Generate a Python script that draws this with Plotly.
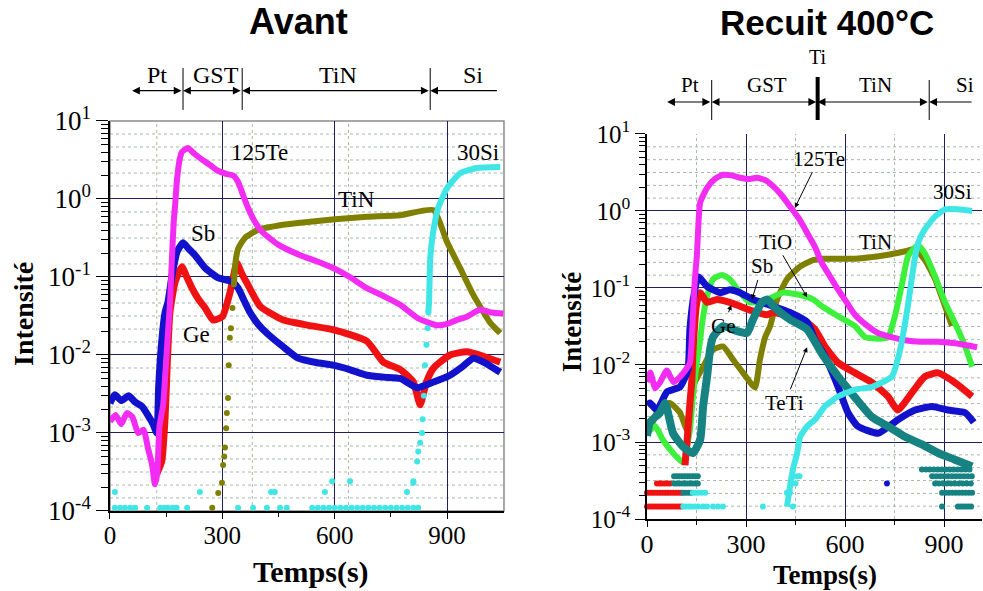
import plotly.graph_objects as go

# ---------------- Avant (left panel) ----------------
av_te_t = [0, 15, 30, 45, 60, 75, 90, 101, 112, 120, 126, 132, 142, 148, 154, 160, 166, 170, 174, 179,
           186, 192, 208, 225, 246, 268, 288, 310, 329, 342, 356, 369, 388, 406, 449, 508, 550, 596, 640, 686,
           730, 775, 820, 850, 873, 900, 925, 953, 988, 1020, 1050]
av_te_i = [1.4e-3, 1.7e-3, 1.3e-3, 1.8e-3, 1.6e-3, 1.0e-3, 1.1e-3, 6.5e-4, 4e-4, 2.2e-4, 3e-4, 1.2e-3, 2.3e-3, 6e-3, 0.017, 0.045, 0.2, 0.5, 0.85, 1.8,
           3.2, 4.0, 4.5, 3.8, 3.2, 2.7, 2.3, 2.1, 2.0, 1.65, 1.1, 0.76, 0.5, 0.38, 0.26, 0.19, 0.16, 0.13, 0.1, 0.072,
           0.057, 0.044, 0.03, 0.026, 0.024, 0.025, 0.028, 0.031, 0.038, 0.035, 0.034]

av_sb_t = [0, 13, 30, 50, 67, 85, 101, 115, 125, 130, 139, 147, 155, 166, 179, 195, 210, 227, 254, 288,
           326, 342, 358, 374, 395, 419, 460, 502, 550, 596, 640, 686, 730, 775, 820, 864, 908, 940, 970, 1000, 1042]
av_sb_i = [2.4e-3, 3.1e-3, 2.6e-3, 3.0e-3, 2.5e-3, 2.2e-3, 1.7e-3, 1.3e-3, 1.0e-3, 4e-3, 0.0166, 0.035, 0.048, 0.107, 0.21, 0.275, 0.23, 0.19, 0.13, 0.098,
           0.087, 0.072, 0.05, 0.035, 0.025, 0.019, 0.013, 9.1e-3, 8e-3, 7.4e-3, 6.5e-3, 5.5e-3, 5.2e-3, 5e-3, 3.8e-3, 4.5e-3, 5.5e-3, 7e-3, 9.1e-3, 8e-3, 6e-3]

av_ge_t = [125, 138, 147, 153, 160, 174, 192, 205, 219, 236, 254, 275, 300, 320, 339, 352, 366, 401, 463, 530,
           598, 686, 730, 775, 810, 828, 845, 864, 908, 953, 1000, 1042]
av_ge_i = [3e-4, 4.3e-4, 1.55e-3, 8e-3, 0.035, 0.087, 0.135, 0.1, 0.072, 0.052, 0.04, 0.028, 0.031, 0.062, 0.15, 0.11, 0.083, 0.042, 0.028, 0.024,
           0.021, 0.015, 8.1e-3, 6.5e-3, 4.5e-3, 2.3e-3, 4.5e-3, 6.8e-3, 0.01, 0.011, 0.0095, 8.1e-3]

# TiN: sparse rising points, then the dense plateau
av_tin_rise_t = [273, 289, 299, 302, 305, 307, 310, 312, 315, 317, 320, 323, 327, 331]
av_tin_rise_i = [1.1e-4, 1.7e-4, 2.3e-4, 3.9e-4, 5e-4, 6.5e-4, 1.15e-3, 1.8e-3, 2.8e-3, 7.4e-3, 0.0166, 0.022, 0.04, 0.08]
av_tin_t = [331, 334, 342, 361, 395, 467, 534, 600, 686, 775, 864, 900, 935, 970, 1015, 1042]
av_tin_i = [0.08, 0.14, 0.23, 0.32, 0.40, 0.47, 0.51, 0.55, 0.59, 0.62, 0.72, 0.28, 0.13, 0.059, 0.026, 0.019]

av_si_rise_t = [810, 820, 823, 828, 833, 835, 838, 841, 845, 848, 850]
av_si_rise_i = [2.3e-4, 4.3e-4, 5.8e-4, 7.5e-4, 1e-3, 1.5e-3, 3e-3, 7.4e-3, 0.0135, 0.022, 0.035]
av_si_t = [850, 852, 855, 862, 876, 900, 935, 980, 1042]
av_si_i = [0.035, 0.048, 0.17, 0.35, 0.76, 1.38, 2.14, 2.5, 2.57]

# scattered 30Si points near the detection floor
av_si_floor_levels = [1.1e-4, 1.75e-4, 2.4e-4]
av_si_floor_t = [
    [13, 27, 40, 54, 67, 99, 134, 146, 155, 168, 178, 206, 342, 382, 419, 454, 472, 540, 555, 570,
     585, 600, 615, 630, 645, 660, 675, 690, 705, 720, 735, 750, 765, 780, 795, 810, 823],
    [13, 240, 430, 440, 574, 793],
    [593, 641, 810],
]

# ---------------- Recuit 400°C (right panel) ----------------
re_te_t = [0, 10, 25, 40, 60, 80, 100, 120, 130, 139, 145, 151, 155, 161, 182, 205, 230, 255, 282, 308,
           333, 360, 382, 408, 433, 460, 485, 509, 530, 555, 579, 605, 630, 665, 700, 740, 782, 830, 882, 940, 1000]
re_te_i = [6e-3, 8e-3, 5e-3, 6e-3, 8.5e-3, 6e-3, 7e-3, 9e-3, 0.0107, 0.043, 0.13, 0.26, 0.58, 1.29, 2.0, 2.6, 2.95, 2.9, 2.7, 2.6,
           2.7, 2.5, 2.1, 1.6, 1.15, 0.8, 0.52, 0.34, 0.21, 0.14, 0.095, 0.065, 0.045, 0.033, 0.026, 0.023, 0.021, 0.02, 0.02, 0.019, 0.017]

re_sb_t = [0, 9, 30, 61, 100, 124, 130, 140, 155, 182, 221, 251, 282, 321, 382, 433, 485, 509, 539, 579,
           609, 639, 700, 760, 812, 864, 912, 964, 990]
re_sb_i = [3e-3, 3.2e-3, 2.6e-3, 4.5e-3, 5.2e-3, 8.7e-3, 0.029, 0.07, 0.14, 0.105, 0.087, 0.095, 0.087, 0.071, 0.058, 0.048, 0.036, 0.021, 0.013, 5.2e-3,
           2.4e-3, 1.6e-3, 1.3e-3, 1.95e-3, 2.6e-3, 2.9e-3, 2.6e-3, 2.4e-3, 1.8e-3]

re_ge_t = [115, 121, 130, 136, 139, 151, 161, 182, 212, 251, 282, 321, 364, 382, 433, 480, 509, 539, 579, 630,
           682, 730, 760, 803, 842, 882, 933, 985]
re_ge_i = [5e-4, 9.8e-4, 3.2e-3, 6.5e-3, 0.0145, 0.065, 0.087, 0.065, 0.071, 0.065, 0.058, 0.05, 0.045, 0.048, 0.043, 0.037, 0.029, 0.0174, 0.0107, 7.9e-3,
           5.9e-3, 3.9e-3, 2.6e-3, 4.4e-3, 7.1e-3, 7.9e-3, 5.9e-3, 3.9e-3]

re_tio_t = [0, 25, 48, 79, 109, 130, 139, 151, 161, 167, 182, 200, 227, 251, 282, 312, 364, 412, 464, 503,
            530, 579, 630, 661, 700, 730, 751, 773, 791, 821, 842, 873, 903, 933, 964, 985]
re_tio_i = [1.3e-3, 1.6e-3, 1.07e-3, 7.2e-4, 5.4e-4, 1.45e-3, 3.9e-3, 0.0107, 0.021, 0.035, 0.078, 0.13, 0.148, 0.13, 0.087, 0.065, 0.071, 0.087, 0.081, 0.071,
            0.058, 0.043, 0.032, 0.023, 0.022, 0.023, 0.043, 0.115, 0.26, 0.36, 0.28, 0.14, 0.065, 0.035, 0.0174, 9.5e-3]

re_tin_t = [10, 39, 70, 100, 121, 139, 170, 200, 230, 261, 291, 327, 342, 358, 373, 394, 424, 464, 503, 530,
            630, 730, 782, 812, 842, 873, 903, 924]
re_tin_i = [1.5e-3, 2.9e-3, 3.2e-3, 2.4e-3, 1.45e-3, 5.2e-3, 9.5e-3, 0.0158, 0.0174, 0.0117, 7.9e-3, 5.1e-3, 0.0117, 0.023, 0.032, 0.071, 0.13, 0.19, 0.23, 0.24,
            0.24, 0.27, 0.30, 0.32, 0.23, 0.13, 0.058, 0.032]

re_teti_t = [0, 9, 39, 55, 79, 109, 139, 161, 170, 182, 191, 200, 230, 273, 303, 321, 348, 364, 394, 433,
             485, 530, 579, 630, 682, 730, 782, 833, 882, 933, 985]
re_teti_i = [1.2e-3, 1.8e-3, 2.4e-3, 3.2e-3, 1.3e-3, 8.7e-4, 7.2e-4, 1.07e-3, 2.9e-3, 7.1e-3, 0.0158, 0.023, 0.032, 0.0275, 0.026, 0.039, 0.065, 0.071, 0.052, 0.039,
             0.029, 0.014, 7.1e-3, 3.8e-3, 2.1e-3, 1.6e-3, 1.17e-3, 9.3e-4, 7.2e-4, 5.9e-4, 4.8e-4]

re_si_t = [424, 433, 442, 455, 464, 485, 509, 539, 579, 630, 682, 742, 765, 782, 795, 803, 812, 821, 842, 873,
           903, 942, 985]
re_si_i = [1.45e-4, 2.6e-4, 4.4e-4, 7.2e-4, 1.17e-3, 1.6e-3, 1.95e-3, 2.9e-3, 3.9e-3, 4.8e-3, 5.2e-3, 7.1e-3, 0.0145, 0.035, 0.08, 0.14, 0.25, 0.38, 0.58, 0.85,
           1.05, 1.05, 1.0]

# scattered points at the detection floor (rows of quantised counts)
re_floor_levels = [1.45e-4, 2.2e-4, 2.9e-4, 3.6e-4, 4.4e-4]
re_ge_floor_t = [
    [0, 8, 16, 24, 32, 40, 48, 56, 64, 72, 80, 88, 96, 104],
    [0, 8, 16, 24, 32, 40, 48, 56, 64, 72, 80, 88, 96, 104],
    [30, 38, 46, 54, 62, 70],
    [], [],
]
re_teti_floor_t = [
    [894, 942, 950, 958, 966, 974, 982],
    [110, 118, 126, 134, 894, 905, 915, 925, 935, 945, 955, 965, 975, 985],
    [82, 90, 98, 106, 114, 122, 130, 138, 146, 154, 873, 885, 897, 909, 921, 933, 945, 957, 969, 981],
    [82, 90, 98, 106, 114, 122, 130, 138, 146, 154, 864, 876, 888, 900, 912, 924, 936, 948, 960, 972, 984],
    [833, 845, 857, 869, 881, 893, 905, 917, 929, 941, 953, 965, 977],
]
re_si_floor_t = [
    [110, 118, 126, 134, 145, 155, 170, 182, 200, 215, 230, 351, 442],
    [139, 147, 155, 165, 176, 424, 433],
    [440, 450],
    [445, 455, 462],
    [],
]
re_sb_floor_t = [[], [], [727], [], []]

# layer bars (time boundaries, s)
av_layers = ["Pt", "GST", "TiN", "Si"]
av_bounds = [59, 195, 353, 855, 1037]
av_label_t = [126, 283, 609, 970]
re_layers = ["Pt", "GST", "TiN", "Si"]
re_bounds = [61, 196, 517, 855, 988]
re_label_t = [130, 364, 691, 964]

# ---------------- colours ----------------
C_TE = "#f22cf2"
C_SB = "#1212cc"
C_GE = "#f01212"
C_TIN = "#808000"
C_SI = "#40e6e6"
C_TIO = "#3cf03c"
C_TETI = "#168282"

SERIF = "Liberation Serif"
SANS = "Liberation Sans"
NAVY = "#1e1e64"
DOT = "#a9b8a9"

fig = go.Figure()


def line(t, v, color, width, xa, ya):
    fig.add_trace(go.Scatter(x=t, y=v, mode="lines", line=dict(color=color, width=width, shape="spline", smoothing=0.5),
                             xaxis=xa, yaxis=ya, showlegend=False, hoverinfo="skip"))


def dots(t, v, color, size, xa, ya):
    fig.add_trace(go.Scatter(x=t, y=v, mode="markers", marker=dict(color=color, size=size),
                             xaxis=xa, yaxis=ya, showlegend=False, cliponaxis=False, hoverinfo="skip"))


def floor(rows, levels, color, xa, ya):
    xs, ys = [], []
    for row, lev in zip(rows, levels):
        xs += row
        ys += [lev] * len(row)
    dots(xs, ys, color, 6, xa, ya)


# left panel traces
floor(av_si_floor_t, av_si_floor_levels, C_SI, "x", "y")
line(av_ge_t, av_ge_i, C_GE, 7, "x", "y")
line(av_sb_t, av_sb_i, C_SB, 7, "x", "y")
dots(av_tin_rise_t, av_tin_rise_i, C_TIN, 6, "x", "y")
line(av_tin_t, av_tin_i, C_TIN, 6, "x", "y")
line(av_te_t, av_te_i, C_TE, 6, "x", "y")
dots(av_si_rise_t, av_si_rise_i, C_SI, 6, "x", "y")
line(av_si_t, av_si_i, C_SI, 6, "x", "y")

# right panel traces
floor(re_ge_floor_t, re_floor_levels, C_GE, "x2", "y2")
floor(re_teti_floor_t, re_floor_levels, C_TETI, "x2", "y2")
floor(re_si_floor_t, re_floor_levels, C_SI, "x2", "y2")
floor(re_sb_floor_t, re_floor_levels, C_SB, "x2", "y2")
line(re_tin_t, re_tin_i, C_TIN, 6, "x2", "y2")
line(re_tio_t, re_tio_i, C_TIO, 6, "x2", "y2")
line(re_ge_t, re_ge_i, C_GE, 7, "x2", "y2")
line(re_sb_t, re_sb_i, C_SB, 7, "x2", "y2")
line(re_te_t, re_te_i, C_TE, 6, "x2", "y2")
line(re_teti_t, re_teti_i, C_TETI, 8, "x2", "y2")
line(re_si_t, re_si_i, C_SI, 6, "x2", "y2")

decades = [1e-4, 1e-3, 1e-2, 1e-1, 1, 10]
dec_text = ["10<sup>-4</sup>", "10<sup>-3</sup>", "10<sup>-2</sup>", "10<sup>-1</sup>", "10<sup>0</sup>", "10<sup>1</sup>"]
minor_mant = [2, 3, 4, 5, 6, 7, 8, 9]
minor_vals = [m * d for d in decades[:-1] for m in minor_mant]
dot_mant = [1.47, 2.15, 3.16, 4.64, 6.81]
dot_vals = [m * d for d in decades[:-1] for m in dot_mant]


def xaxis(domain, rng, size, standoff):
    return dict(domain=domain, range=rng, tickvals=[0, 300, 600, 900], ticks="outside", ticklen=6,
                tickcolor="black", showline=True, linecolor="black", linewidth=1.5, zeroline=False,
                showgrid=True, gridcolor=NAVY, gridwidth=1, automargin=False,
                tickfont=dict(family=SERIF, size=size, color="black"), ticklabelstandoff=standoff,
                minor=dict(tickvals=[150, 450, 750], ticks="outside", ticklen=4, tickcolor="black", showgrid=False))


def yaxis(domain, size, tl):
    return dict(domain=domain, type="log", range=[-4, 1], tickvals=decades, ticktext=dec_text,
                ticks="outside", ticklen=tl, tickcolor="black", showline=True, linecolor="black", linewidth=1.5,
                showgrid=True, gridcolor=NAVY, gridwidth=1, zeroline=False, automargin=False,
                tickfont=dict(family=SERIF, size=size, color="black"),
                minor=dict(tickvals=minor_vals, ticks="outside", ticklen=int(tl * 0.6), tickcolor="black", showgrid=False))


fig.update_layout(
    width=983, height=591, autosize=False,
    margin=dict(l=0, r=0, t=0, b=0, pad=0, autoexpand=False),
    paper_bgcolor="white", plot_bgcolor="white",
    xaxis=dict(xaxis([0.1119, 0.5127], [0, 1052], 25, -5), anchor="y"),
    yaxis=dict(yaxis([0.1354, 0.7953], 27, 12), anchor="x"),
    xaxis2=dict(xaxis([0.6582, 0.999], [0, 1015], 26, -5), anchor="y2"),
    yaxis2=dict(yaxis([0.1218, 0.7733], 25, 10), anchor="x2"),
)

shapes = []
# dotted grids
for xa, ya, xdots in [("x", "y", [125, 380, 637]), ("x2", "y2", [150, 450, 750])]:
    for v in xdots:
        shapes.append(dict(type="line", xref=xa, yref=ya + " domain", x0=v, x1=v, y0=0, y1=1,
                           line=dict(color=DOT, width=1, dash="dot"), layer="below"))
    for v in dot_vals:
        shapes.append(dict(type="line", xref=xa + " domain", yref=ya, x0=0, x1=1, y0=v, y1=v,
                           line=dict(color=DOT, width=1, dash="dot"), layer="below"))
# left frame
shapes.append(dict(type="rect", xref="x domain", yref="y domain", x0=0, x1=1, y0=0, y1=1,
                   line=dict(color="#8c8c8c", width=1.5), layer="below"))

ann = []


def text(x, y, s, size, xref="paper", yref="paper", family=SERIF, angle=0):
    ann.append(dict(x=x, y=y, xref=xref, yref=yref, text=s, showarrow=False, textangle=angle,
                    xanchor="center", yanchor="middle", font=dict(family=family, size=size, color="black")))


# layer bars
for xa, bounds, labels, lab_t, ybar, ytop, ybot, ylab, fs in [
        ("x", av_bounds, av_layers, av_label_t, 0.8465, 0.885, 0.814, 0.873, 24),
        ("x2", re_bounds, re_layers, re_label_t, 0.8274, 0.8646, 0.797, 0.856, 21)]:
    for b in bounds[1:-1]:
        shapes.append(dict(type="line", xref=xa, yref="paper", x0=b, x1=b, y0=ybot, y1=ytop,
                           line=dict(color="black", width=1)))
    for k in range(len(bounds) - 1):
        last = k == len(bounds) - 2
        ann.append(dict(x=bounds[k], y=ybar, xref=xa, yref="paper",
                        ax=bounds[k + 1], ay=0, axref=xa, ayref="pixel",
                        text="", showarrow=True, arrowhead=2, arrowsize=1.3, arrowwidth=1.2,
                        arrowside="end" if last else "end+start", arrowcolor="black",
                        standoff=0, startstandoff=0))
    for lab, t in zip(labels, lab_t):
        text(t, ylab, lab, fs, xref=xa)
# thick Ti marker (right)
shapes.append(dict(type="line", xref="x2", yref="paper", x0=re_bounds[2], x1=re_bounds[2], y0=0.797, y1=0.8697,
                   line=dict(color="black", width=4)))
text(re_bounds[2], 0.903, "Ti", 20, xref="x2")

# curve labels, left
for txt, t, ly in [("125Te", 398, 0.59), ("30Si", 983, 0.60), ("TiN", 657, -0.01), ("Sb", 248, -0.44), ("Ge", 232, -1.74)]:
    text(t, ly, txt, 23, xref="x", yref="y")
# curve labels, right
for txt, t, ly in [("30Si", 927, 0.25), ("TiN", 691, -0.40)]:
    text(t, ly, txt, 21, xref="x2", yref="y2")
for txt, tt, tly, ht, hly in [("125Te", 521, 0.68, 448, 0.04), ("TiO", 388, -0.40, 485, -1.12),
                              ("Sb", 348, -0.72, 318, -1.15), ("Ge", 233, -1.49, 255, -1.22),
                              ("TeTi", 418, -2.49, 485, -1.77)]:
    ann.append(dict(x=ht, y=hly, xref="x2", yref="y2", ax=tt, ay=tly, axref="x2", ayref="y2",
                    text=txt, showarrow=True, arrowhead=2, arrowsize=1, arrowwidth=1, arrowcolor="black",
                    font=dict(family=SERIF, size=21, color="black")))

# titles and axis titles
text(0.304, 0.963, "<b>Avant</b>", 36, family=SANS)
text(0.841, 0.962, "<b>Recuit 400°C</b>", 35, family=SANS)
text(0.0244, 0.4687, "<b>Intensité</b>", 28, angle=-90)
text(0.582, 0.455, "<b>Intensité</b>", 27, angle=-90)
text(0.3164, 0.0321, "<b>Temps(s)</b>", 30)
text(0.8393, 0.0275, "<b>Temps(s)</b>", 27)

fig.update_layout(shapes=shapes, annotations=ann)
fig.write_html("out.html")
